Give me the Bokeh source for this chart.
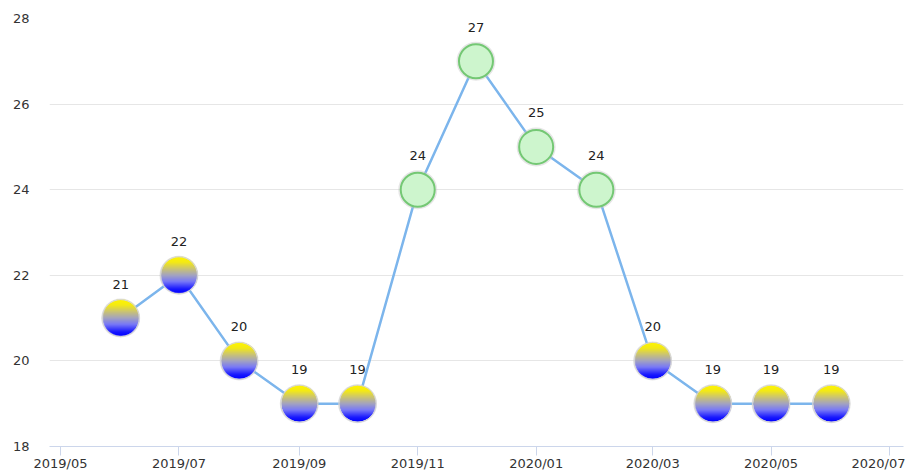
import numpy as np
import pandas as pd
from bokeh.plotting import figure
from bokeh.models import Range1d, FixedTicker, DatetimeTickFormatter, ColumnDataSource
from bokeh.embed import file_html
from bokeh.resources import INLINE
from bokeh.core.properties import value

# ---- data ----
months = ["2019-06-01", "2019-07-01", "2019-08-01", "2019-09-01", "2019-10-01",
          "2019-11-01", "2019-12-01", "2020-01-01", "2020-02-01", "2020-03-01",
          "2020-04-01", "2020-05-01", "2020-06-01"]
values = [21, 22, 20, 19, 19, 24, 27, 25, 24, 20, 19, 19, 19]
tick_dates = ["2019-05-01", "2019-07-01", "2019-09-01", "2019-11-01",
              "2020-01-01", "2020-03-01", "2020-05-01", "2020-07-01"]
y_ticks = [18, 20, 22, 24, 26, 28]
threshold = 24

dates = pd.to_datetime(months)
ms = [d.timestamp() * 1000 for d in dates]
tick_ms = [pd.Timestamp(t).timestamp() * 1000 for t in tick_dates]

FONT = "DejaVu Sans"

p = figure(width=905, height=473, x_axis_type="datetime",
           output_backend="svg", toolbar_location=None,
           x_range=Range1d(pd.Timestamp("2019-04-25 08:00").timestamp() * 1000,
                           pd.Timestamp("2020-07-08 05:00").timestamp() * 1000),
           y_range=Range1d(18, 28),
           min_border_left=49, min_border_right=2, min_border_top=18, min_border_bottom=24)
p.outline_line_color = None
p.background_fill_color = "white"

# grid
p.xgrid.grid_line_color = None
p.ygrid.grid_line_color = "#e6e6e6"
p.ygrid.grid_line_width = 1

# axes
p.xaxis.ticker = FixedTicker(ticks=tick_ms)
p.xaxis.formatter = DatetimeTickFormatter(months="%Y/%m", days="%Y/%m", years="%Y/%m")
p.xaxis.axis_line_color = "#ccd6eb"
p.xaxis.major_tick_line_color = "#ccd6eb"
p.xaxis.major_tick_out = 9
p.xaxis.major_tick_in = 0
p.xaxis.minor_tick_line_color = None
p.xaxis.major_label_standoff = 0
p.xaxis.major_label_text_font = FONT
p.xaxis.major_label_text_font_size = "13px"
p.xaxis.major_label_text_line_height = 1.0
p.xaxis.major_label_text_color = "#333333"

p.yaxis.ticker = FixedTicker(ticks=y_ticks)
p.yaxis.axis_line_color = None
p.yaxis.major_tick_line_color = None
p.yaxis.minor_tick_line_color = None
p.yaxis.major_tick_out = 0
p.yaxis.major_tick_in = 0
p.yaxis.major_label_standoff = 20
p.yaxis.major_label_text_font = FONT
p.yaxis.major_label_text_font_size = "13px"
p.yaxis.major_label_text_color = "#333333"

# line
p.line(ms, values, line_color="#7cb5ec", line_width=2.5)

low = [i for i, v in enumerate(values) if v < threshold]
high = [i for i, v in enumerate(values) if v >= threshold]

D = 35

# shadow for all markers
p.scatter(ms, values, size=D + 4, marker="circle", fill_color="#c8c8c8",
          fill_alpha=0.45, line_color=None)

# gradient image (yellow top -> blue bottom)
N = 74
yy, xx = np.mgrid[0:N, 0:N]
cx = cy = (N - 1) / 2
r = np.sqrt((xx - cx) ** 2 + (yy - cy) ** 2)
alpha = np.clip((N / 2 - r) * 1.0, 0, 1)
t = yy / (N - 1)  # 0 = bottom row (origin bottom_left), 1 = top
stops_t = [0.0, 0.12, 0.32, 0.5, 0.68, 0.85, 1.0]
stops_c = [(0, 0, 255), (25, 25, 255), (120, 120, 248), (165, 165, 190),
           (205, 198, 110), (245, 235, 20), (255, 245, 0)]
img = np.zeros((N, N, 4), dtype=np.uint8)
for ch in range(3):
    img[..., ch] = np.interp(t, stops_t, [c[ch] for c in stops_c]).astype(np.uint8)
img[..., 3] = (alpha * 255).astype(np.uint8)
img32 = img.view(dtype=np.uint32).reshape((N, N))

src_low = ColumnDataSource(dict(x=[ms[i] for i in low], y=[values[i] for i in low],
                                image=[img32] * len(low)))
p.image_rgba(image="image", x="x", y="y", dw=D + 2, dh=D + 2, dw_units="screen",
             dh_units="screen", anchor="center", source=src_low)
p.scatter("x", "y", source=src_low, size=D + 2, marker="circle", fill_color=None,
          line_color="#d6d6d6", line_width=1)

# green markers
p.scatter([ms[i] for i in high], [values[i] for i in high], size=D - 1, marker="circle",
          fill_color="#cdf5cd", line_color="#74c874", line_width=2)

# labels
p.text(ms, values, text=[str(v) for v in values], text_align="center",
       text_baseline="alphabetic", y_offset=-34, text_font=value(FONT),
       text_font_size="13px", text_color="#222222")

open("out.html", "w").write(file_html(p, INLINE))
